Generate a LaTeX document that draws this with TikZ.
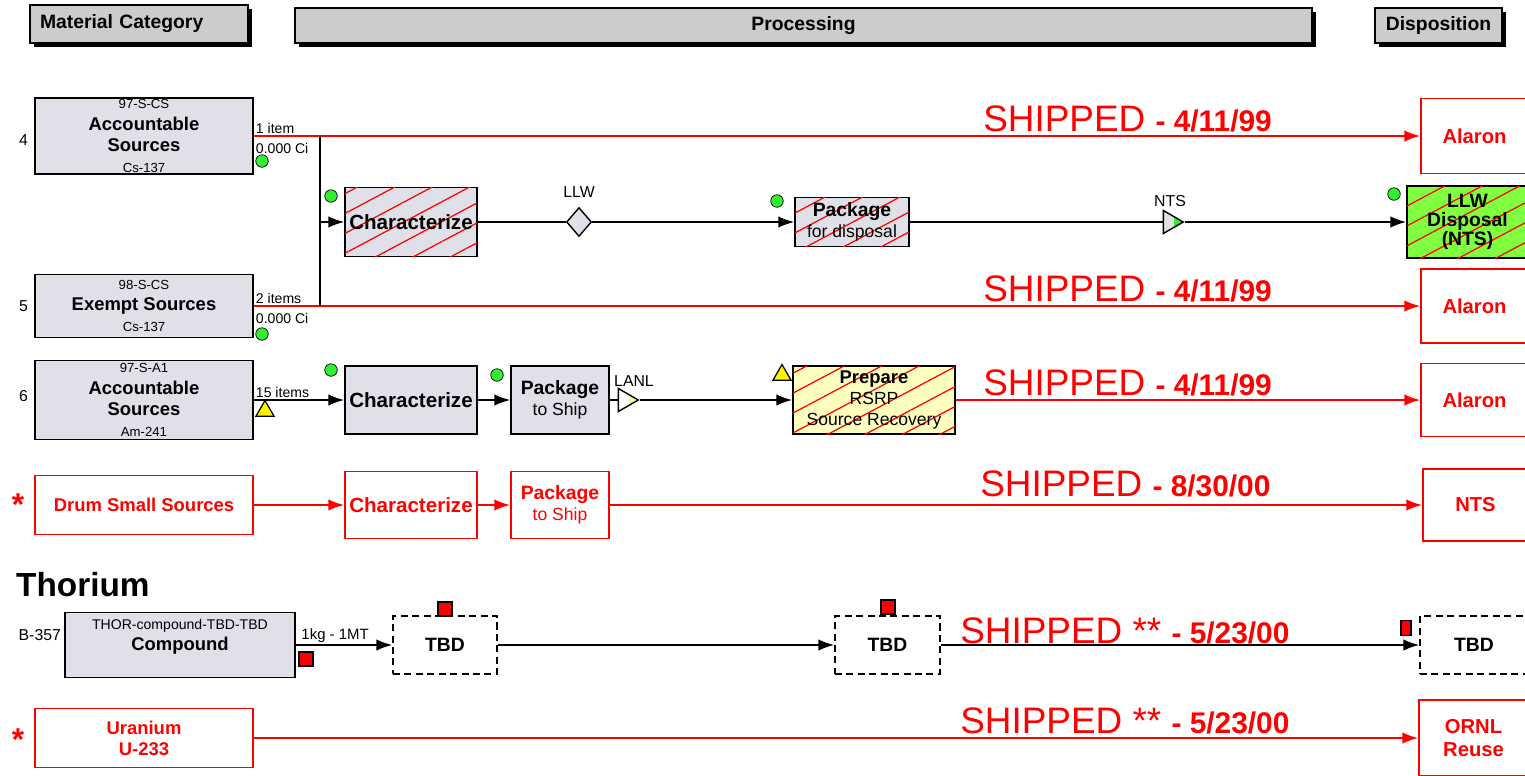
\documentclass[tikz,border=0pt]{standalone}
\usepackage{fontspec}
\setmainfont{Liberation Sans}
\usetikzlibrary{arrows.meta,positioning,shapes.geometric,patterns.meta,shadows}
\definecolor{boxgray}{RGB}{224,224,232}
\definecolor{hdrgray}{RGB}{204,204,204}
\definecolor{dotgreen}{RGB}{51,238,51}
\definecolor{llwgreen}{RGB}{128,255,64}
\definecolor{prepyellow}{RGB}{255,255,192}
\definecolor{shipred}{RGB}{255,0,0}
\newcommand{\fsz}[2]{\fontsize{#1}{#2}\selectfont}
\newcommand{\shiptext}[2]{\fsz{21}{24}SHIPPED#1 {\bfseries\fsz{17}{20}- #2}}

\begin{document}
\begin{tikzpicture}[
  x=0.02cm, y=-0.02cm,
  every node/.style={inner sep=1pt},
  box/.style={draw, line width=1pt, fill=boxgray, align=center},
  redbox/.style={draw=shipred, line width=1pt, fill=white, align=center,
                 text=shipred, font=\bfseries\fsz{10.5}{12}},
  tbdbox/.style={draw, line width=1pt, dash pattern=on 4pt off 2.5pt,
                 font=\bfseries\fsz{11}{12}, minimum height=1.16cm},
  hatch/.style={postaction={pattern color=shipred,
                pattern={Lines[angle=28,distance=10pt,line width=0.7pt]}}},
  hdr/.style={draw, line width=0.8pt, fill=hdrgray, font=\bfseries\fsz{11}{13},
              drop shadow={shadow xshift=2.5pt, shadow yshift=-2.5pt, opacity=1, fill=black}},
  dot/.style={circle, draw, fill=dotgreen, minimum size=0.25cm, inner sep=0pt},
  warn/.style={regular polygon, regular polygon sides=3, draw, line width=0.7pt,
               fill=yellow, minimum size=0.42cm, inner sep=0pt},
  flag/.style={rectangle, draw, line width=0.7pt, fill=shipred, minimum size=0.28cm, inner sep=0pt},
  tri/.style={regular polygon, regular polygon sides=3, shape border rotate=-90,
              draw, line width=0.8pt, minimum size=0.53cm, inner sep=0pt},
  num/.style={font=\fsz{9}{10}},
  lbl/.style={font=\fsz{8}{9}},
  star/.style={text=shipred, font=\bfseries\fsz{18}{18}},
  ship/.style={text=shipred, anchor=base west, inner sep=0pt},
  line/.style={line width=0.8pt},
  arr/.style={-{Latex[length=9pt,width=6.5pt]}, line width=0.8pt},
  redarr/.style={arr, draw=shipred, line width=1pt}
]
\useasboundingbox (0,0) rectangle (1525,775);

% column headers
\node[hdr, text width=3.96cm, inner xsep=0.2cm, align=left, minimum height=0.76cm] (hmat) at (139,24) {Material Category};
\node[hdr, minimum width=20.34cm, minimum height=0.7cm] (hproc) at (803.5,25.5) {Processing};
\node[hdr, minimum width=2.54cm, minimum height=0.7cm] (hdisp) at (1438.5,25.5) {Disposition};

% row 4 and 5: Cs-137
\node[box, minimum width=4.36cm, minimum height=1.42cm] (src4) at (144,136)
  {\fsz{7.5}{9}97-S-CS\\ \bfseries\fsz{10.5}{10}Accountable\\ \bfseries\fsz{10.5}{10}Sources\\ \mdseries\fsz{7.5}{9}Cs-137};
\node[num, anchor=east] (n4) at (30,140) {4};
\node[lbl, above right=0pt and 0pt of src4.east] (q4) {1 item};
\node[lbl, below right=3pt and 0pt of src4.east] (c4) {0.000 Ci};
\node[dot] (g4) at (262,161) {};
\node[redbox, font=\bfseries\fsz{11.5}{13}, minimum width=2.14cm, minimum height=1.5cm] (al4) at (1474.5,136) {Alaron};
\node[ship] (s4) at (983,131) {\shiptext{}{4/11/99}};
\draw[redarr] (src4) -- (al4);

\node[box, minimum width=4.36cm, minimum height=1.26cm] (src5) at (144,306)
  {\fsz{7.5}{9}98-S-CS\\ \bfseries\fsz{10.5}{10}Exempt Sources\\ \mdseries\fsz{7.5}{9}Cs-137};
\node[num, anchor=east] (n5) at (30,306) {5};
\node[lbl, above right=0pt and 0pt of src5.east] (q5) {2 items};
\node[lbl, below right=3pt and 0pt of src5.east] (c5) {0.000 Ci};
\node[dot] (g5) at (262,334) {};
\node[redbox, font=\bfseries\fsz{11.5}{13}, minimum width=2.14cm, minimum height=1.48cm] (al5) at (1474.5,306) {Alaron};
\node[ship] (s5) at (983,301) {\shiptext{}{4/11/99}};
\draw[redarr] (src5) -- (al5);

% LLW branch
\coordinate (j4) at (320,136);
\coordinate (j5) at (320,306);
\node[box, hatch, font=\bfseries\fsz{11.7}{13}, minimum width=2.64cm, minimum height=1.38cm] (char1) at (411,222) {Characterize};
\node[dot] (g1) at (331,196) {};
\node[diamond, draw, line width=0.8pt, fill=boxgray, minimum width=0.5cm, minimum height=0.58cm, inner sep=0pt] (dLLW) at (579,222) {};
\node[num, above=4pt of dLLW] (tLLW) {LLW};
\node[box, hatch, minimum width=2.28cm, minimum height=0.98cm] (pkg1) at (852,222)
  {\bfseries\fsz{11}{11}Package\\ \mdseries\fsz{10}{10}for disposal};
\node[dot] (g2) at (777,201) {};
\node[tri, fill=boxgray, path picture={\fill[dotgreen] ([xshift=-5pt]path picture bounding box.north east) rectangle (path picture bounding box.south east);}] (tNTS) at (1170,222) {};
\node[num, above=3pt of tNTS] (tNTSl) {NTS};
\node[box, hatch, fill=llwgreen, font=\bfseries\fsz{11}{11}, minimum width=2.42cm, minimum height=1.44cm] (llw) at (1467.5,222) {LLW\\ Disposal\\ (NTS)};
\node[dot] (g3) at (1394,194) {};
\draw[line] (j4) -- (j5);
\draw[arr] (j4 |- char1) -- (char1);
\draw[line] (char1) -- (dLLW);
\draw[arr] (dLLW) -- (pkg1);
\draw[line] (pkg1) -- (tNTS);
\draw[arr] (tNTS) -- (llw);

% row 6: Am-241
\node[box, minimum width=4.36cm, minimum height=1.58cm] (src6) at (144,400)
  {\fsz{7.5}{9}97-S-A1\\ \bfseries\fsz{10.5}{10}Accountable\\ \bfseries\fsz{10.5}{10}Sources\\ \mdseries\fsz{7.5}{9}Am-241};
\node[num, anchor=east] (n6) at (30,396) {6};
\node[lbl, above right=0pt and 0pt of src6.east] (q6) {15 items};
\node[warn] (w6) at (265,411) {};
\node[box, font=\bfseries\fsz{11.7}{13}, minimum width=2.64cm, minimum height=1.36cm] (char2) at (411,400) {Characterize};
\node[dot] (g6a) at (331,370) {};
\node[box, minimum width=1.96cm, minimum height=1.36cm] (pkg2) at (560,400)
  {\bfseries\fsz{11}{11}Package\\ \mdseries\fsz{10}{10}to Ship};
\node[dot] (g6b) at (497,375) {};
\node[tri, fill=white, path picture={\fill[yellow!45] ([xshift=-5pt]path picture bounding box.north east) rectangle (path picture bounding box.south east);}] (tLANL) at (625,400) {};
\node[num] (tLANLl) at (634,381) {LANL};
\node[box, hatch, fill=prepyellow, minimum width=3.24cm, minimum height=1.36cm] (prep) at (874,400)
  {\bfseries\fsz{10.5}{11}Prepare\\ \mdseries\fsz{10}{11}RSRP\\ \mdseries\fsz{10}{11}Source Recovery};
\node[warn] (w6b) at (782,375) {};
\node[redbox, font=\bfseries\fsz{11.5}{13}, minimum width=2.14cm, minimum height=1.46cm] (al6) at (1474.5,400) {Alaron};
\node[ship] (s6) at (983,395) {\shiptext{}{4/11/99}};
\draw[arr] (src6) -- (char2);
\draw[arr] (char2) -- (pkg2);
\draw[line] (pkg2) -- (tLANL);
\draw[arr] (tLANL) -- (prep);
\draw[redarr] (prep) -- (al6);

% row 7: drum small sources
\node[star] (st7) at (18,505) {*};
\node[redbox, minimum width=4.36cm, minimum height=1.18cm] (drum) at (144,505) {Drum Small Sources};
\node[redbox, font=\bfseries\fsz{11.7}{13}, minimum width=2.64cm, minimum height=1.34cm] (char3) at (411,505) {Characterize};
\node[redbox, minimum width=1.96cm, minimum height=1.34cm] (pkg3) at (560,505)
  {\bfseries\fsz{11}{11}Package\\ \mdseries\fsz{10}{10}to Ship};
\node[redbox, font=\bfseries\fsz{11.5}{13}, minimum width=2.1cm, minimum height=1.44cm] (nts) at (1475.5,505) {NTS};
\node[ship] (s7) at (980,496) {\shiptext{}{8/30/00}};
\draw[redarr] (drum) -- (char3);
\draw[redarr] (char3) -- (pkg3);
\draw[redarr] (pkg3) -- (nts);

% thorium
\node[font=\bfseries\fsz{19}{20}, anchor=west] (thor) at (14,585) {Thorium};
\node[num, anchor=east] (b357) at (63,635) {B-357};
\node[box, minimum width=4.6cm, minimum height=1.3cm] (comp) at (180,645)
  {\fsz{8}{9}THOR-compound-TBD-TBD\\ \bfseries\fsz{10.5}{11}Compound\\ \mdseries\fsz{8}{9}\mbox{}};
\node[lbl, font=\fsz{8.5}{9}, above right=0pt and 2pt of comp.east] (q8) {1kg - 1MT};
\node[flag] (f8) at (306,659) {};
\node[tbdbox, minimum width=2.08cm] (tbd1) at (445,645) {TBD};
\node[flag] (f8a) at (445,609) {};
\node[tbdbox, minimum width=2.1cm] (tbd2) at (887.5,645) {TBD};
\node[flag] (f8b) at (888,607) {};
\node[tbdbox, minimum width=2.16cm] (tbd3) at (1474,645) {TBD};
\node[flag, minimum width=0.2cm, minimum height=0.3cm] (f8c) at (1406,628) {};
\node[ship] (s8) at (960,643) {\shiptext{ **}{5/23/00}};
\draw[arr] (comp) -- (tbd1);
\draw[arr] (tbd1) -- (tbd2);
\draw[arr] (tbd2) -- (tbd3);

% uranium
\node[star] (st9) at (18,740) {*};
\node[redbox, minimum width=4.36cm, minimum height=1.18cm] (ur) at (144,738) {Uranium\\ U-233};
\node[redbox, font=\bfseries\fsz{11.5}{13}, minimum width=2.18cm, minimum height=1.52cm] (ornl) at (1473.5,738) {ORNL\\ Reuse};
\node[ship] (s9) at (960,733) {\shiptext{ **}{5/23/00}};
\draw[redarr] (ur) -- (ornl);
\end{tikzpicture}
\end{document}
